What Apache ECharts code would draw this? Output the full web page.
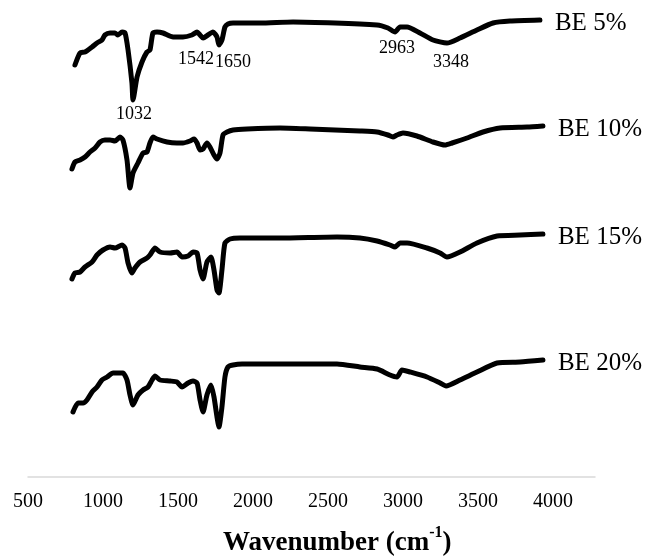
<!DOCTYPE html>
<html>
<head>
<meta charset="utf-8">
<script src="https://cdn.jsdelivr.net/npm/echarts@6/dist/echarts.min.js"></script>
<style>html,body{margin:0;padding:0;background:#fff}#c{width:648px;height:558px}</style>
</head>
<body>
<div id="c"></div>
<script>
// Wavenumber (cm-1) and relative transmittance (arbitrary units, stacked offsets)
const seriesNames = ['BE 5%', 'BE 10%', 'BE 15%', 'BE 20%'];

const wn5 = [813,847,880,927,960,993,1013,1047,1080,1100,1127,1147,1167,1193,1200,1227,1260,1293,1313,1333,1360,1400,1467,1533,1593,1627,1647,1667,1700,1733,1760,1773,1793,1813,1833,1867,2047,2267,2827,2900,2947,2980,3027,3113,3200,3293,3380,3493,3600,3713,3913];
const t5  = [412,424,425,430,434,437,442,444,444,442,445,444,427,394,377,400,415,425,427,444,445,444,440,440,442,445,442,439,442,445,440,432,437,450,453,454,454,455,452,449,445,450,450,444,437,434,439,447,454,456,457];

const wn10 = [793,813,847,880,913,947,980,1013,1047,1080,1113,1133,1160,1180,1200,1233,1267,1293,1313,1333,1360,1427,1493,1533,1580,1607,1627,1647,1667,1693,1713,1740,1760,1780,1800,1827,1867,1960,2180,2380,2713,2827,2900,2933,2960,3000,3093,3200,3280,3327,3427,3533,3647,3827,3933];
const t10  = [308,315,317,320,325,329,335,337,337,336,340,337,317,289,304,314,324,325,334,340,338,335,334,334,336,338,334,327,328,334,330,322,318,324,342,345,347,348,349,348,346,345,342,340,342,344,341,335,332,334,339,345,349,350,351];

const wn15 = [793,813,847,880,927,960,1000,1047,1080,1127,1147,1167,1193,1213,1247,1293,1313,1347,1380,1447,1493,1527,1567,1600,1627,1647,1667,1693,1720,1740,1760,1773,1793,1813,1847,1913,2180,2560,2713,2827,2913,2947,2980,3027,3160,3247,3293,3380,3493,3627,3780,3933];
const t15  = [198,204,205,210,215,222,227,230,229,232,229,214,204,209,215,219,222,229,225,224,225,220,221,225,224,207,198,215,220,207,187,184,207,234,238,239,239,240,239,236,232,230,234,234,229,224,220,225,234,241,242,243];

const wn20 = [800,833,867,893,927,960,993,1027,1067,1100,1133,1160,1180,1200,1233,1267,1300,1327,1347,1380,1447,1493,1527,1567,1600,1627,1647,1667,1693,1720,1740,1760,1773,1793,1813,1833,1867,1927,2180,2560,2713,2827,2913,2960,2993,3047,3160,3247,3287,3380,3493,3627,3780,3933];
const t20  = [65,74,74,77,85,90,97,100,104,104,104,97,82,72,82,87,90,97,101,97,96,95,90,94,96,94,77,65,82,92,80,60,50,70,100,110,112,113,113,113,110,108,102,100,107,105,100,94,91,97,105,114,115,117];

// Peak annotations (label text, and the point where each label sits)
const peakLabels = ['1032', '1542', '1650', '2963', '3348'];
const peakX = [1207, 1620, 1867, 2960, 3320];
const peakY = [363, 418, 415, 429, 415];

// Axis ticks
const xTicks = [500, 1000, 1500, 2000, 2500, 3000, 3500, 4000];

const wnList = [wn5, wn10, wn15, wn20];
const tList = [t5, t10, t15, t20];
const serif = 'Liberation Serif, Times New Roman, serif';

const lineSeries = seriesNames.map((name, i) => ({
  name: name,
  type: 'line',
  data: wnList[i].map((x, j) => [x, tList[i][j]]),
  showSymbol: false,
  smooth: 0.2,
  lineStyle: { color: '#000', width: 5, cap: 'round', join: 'round' },
  endLabel: {
    show: true,
    formatter: '{a}',
    distance: 15,
    offset: [0, 3],
    fontFamily: serif,
    fontSize: 25,
    color: '#000'
  },
  silent: true,
  z: 3
}));

const annot = {
  type: 'scatter',
  symbolSize: 0,
  silent: true,
  itemStyle: { opacity: 1, color: '#000' },
  data: peakLabels.map((l, i) => ({ name: l, value: [peakX[i], peakY[i]] })),
  label: {
    show: true,
    position: 'inside',
    formatter: '{b}',
    fontFamily: serif,
    fontSize: 18,
    color: '#000',
    opacity: 1,
    textBorderWidth: 0
  },
  z: 4
};

const chart = echarts.init(document.getElementById('c'), null, { renderer: 'canvas' });
chart.setOption({
  animation: false,
  backgroundColor: '#fff',
  title: {
    text: '{a|Wavenumber (cm}{s|-1}{a|)}',
    left: 218,
    top: 520,
    textStyle: {
      rich: {
        a: { fontFamily: serif, fontWeight: 'bold', fontSize: 27, color: '#000', lineHeight: 32, verticalAlign: 'bottom' },
        s: { fontFamily: serif, fontWeight: 'bold', fontSize: 16, color: '#000', lineHeight: 32, verticalAlign: 'top' }
      }
    }
  },
  grid: { left: 28, right: 53, top: 0, bottom: 81, containLabel: false },
  xAxis: {
    type: 'value',
    min: 500,
    max: 4280,
    interval: 500,
    axisLine: { show: true, lineStyle: { color: '#d9d9d9', width: 1.5 } },
    axisTick: { show: false },
    splitLine: { show: false },
    axisLabel: {
      fontFamily: serif,
      fontSize: 20,
      color: '#000',
      margin: 15,
      showMaxLabel: false,
      formatter: v => (xTicks.indexOf(v) >= 0 ? String(v) : '')
    }
  },
  yAxis: { type: 'value', min: 0, max: 477, show: false },
  series: lineSeries.concat([annot])
});
</script>
</body>
</html>
